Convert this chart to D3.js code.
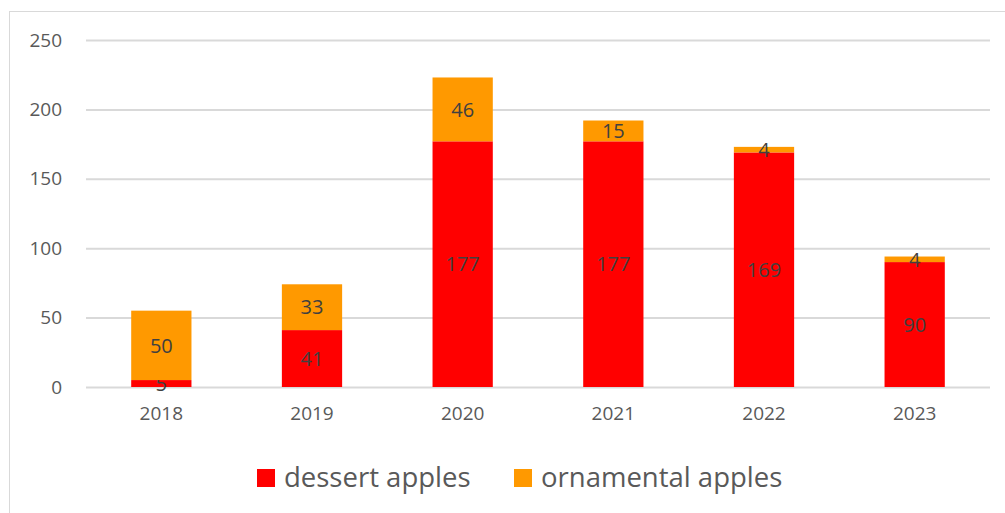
<!DOCTYPE html>
<html>
<head>
<meta charset="utf-8">
<script src="https://cdn.jsdelivr.net/npm/d3@7"></script>
<style>
  body { margin: 0; background: #fff; }
  svg { display: block; font-family: "Open Sans", "Liberation Sans", sans-serif; }
</style>
</head>
<body>
<svg id="chart" width="1005" height="513"></svg>
<script>
var years = ['2018', '2019', '2020', '2021', '2022', '2023'];
var dessert = [5, 41, 177, 177, 169, 90];
var ornamental = [50, 33, 46, 15, 4, 4];
var yTicks = [0, 50, 100, 150, 200, 250];
var seriesNames = ['dessert apples', 'ornamental apples'];
var seriesColors = ['#ff0000', '#ff9900'];

var svg = d3.select('#chart');

// frame round the chart area
svg.append('rect')
  .attr('x', 9.5).attr('y', 11.5)
  .attr('width', 1005).attr('height', 520)
  .attr('fill', 'none')
  .attr('stroke', '#d9d9d9');

var plot = { left: 86, right: 990, top: 40, bottom: 387 };

var x = d3.scaleBand()
  .domain(years)
  .range([plot.left, plot.right])
  .paddingInner(0.6)
  .paddingOuter(0.3);

var y = d3.scaleLinear()
  .domain([0, 250])
  .range([plot.bottom, plot.top]);

// gridlines + y labels
var yAxis = d3.axisLeft(y)
  .tickValues(yTicks)
  .tickSize(-(plot.right - plot.left))
  .tickPadding(24);

var gy = svg.append('g')
  .attr('transform', 'translate(' + plot.left + ',0)')
  .call(yAxis);
gy.select('.domain').remove();
gy.selectAll('.tick line').attr('stroke', '#d9d9d9').attr('stroke-width', 2);
gy.selectAll('.tick text')
  .attr('fill', '#595959')
  .style('font-size', '19px')
  .style('font-family', '"Open Sans", sans-serif');

// stack the two series
var rows = years.map(function(yr, i) {
  return { year: yr, dessert: dessert[i], ornamental: ornamental[i] };
});
var stacked = d3.stack().keys(['dessert', 'ornamental'])(rows);

var layers = svg.selectAll('g.layer')
  .data(stacked)
  .enter().append('g')
  .attr('class', 'layer')
  .attr('fill', function(d, i) { return seriesColors[i]; });

layers.selectAll('rect')
  .data(function(d) { return d; })
  .enter().append('rect')
  .attr('x', function(d) { return x(d.data.year); })
  .attr('y', function(d) { return y(d[1]); })
  .attr('width', x.bandwidth())
  .attr('height', function(d) { return y(d[0]) - y(d[1]); });

// value labels in the middle of each segment
layers.selectAll('text')
  .data(function(d) { return d; })
  .enter().append('text')
  .attr('x', function(d) { return x(d.data.year) + x.bandwidth() / 2; })
  .attr('y', function(d) { return y((d[0] + d[1]) / 2); })
  .attr('dy', '0.36em')
  .attr('text-anchor', 'middle')
  .attr('fill', '#404040')
  .style('font-size', '20px')
  .text(function(d) { return d[1] - d[0]; });

// x axis labels
var gx = svg.append('g')
  .attr('transform', 'translate(0,' + plot.bottom + ')')
  .call(d3.axisBottom(x).tickSize(0).tickPadding(20));
gx.select('.domain').remove();
gx.selectAll('.tick text')
  .attr('fill', '#595959')
  .style('font-size', '19px')
  .style('font-family', '"Open Sans", sans-serif');

// legend
var legendX = [257, 514];
var legend = svg.selectAll('g.legend')
  .data(seriesNames)
  .enter().append('g')
  .attr('class', 'legend')
  .attr('transform', function(d, i) { return 'translate(' + legendX[i] + ',469)'; });

legend.append('rect')
  .attr('width', 18).attr('height', 18)
  .attr('fill', function(d, i) { return seriesColors[i]; });

legend.append('text')
  .attr('x', 27).attr('y', 9)
  .attr('dy', '0.34em')
  .attr('fill', '#595959')
  .style('font-size', '27.5px')
  .text(function(d) { return d; });
</script>
</body>
</html>
